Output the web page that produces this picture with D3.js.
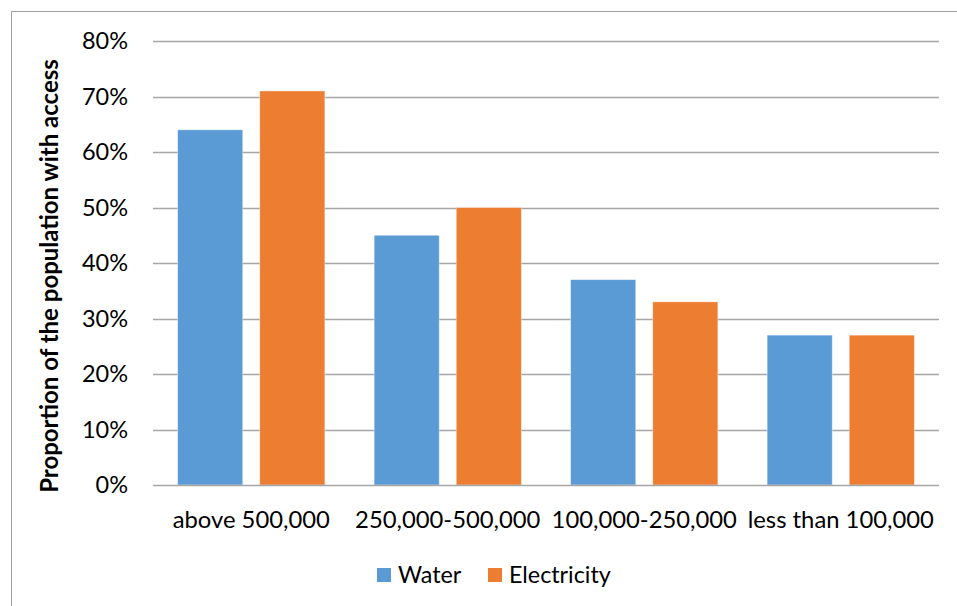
<!DOCTYPE html>
<html><head><meta charset="utf-8">
<script src="https://cdn.jsdelivr.net/npm/d3@7"></script>
<style>
html,body{margin:0;padding:0;background:#fff;}
svg{display:block;font-family:Lato,"Open Sans",sans-serif;}
</style></head>
<body><svg id="c" width="957" height="606"></svg>
<script>
const categories = ["above 500,000","250,000-500,000","100,000-250,000","less than 100,000"];
const seriesNames = ["Water","Electricity"];
const water = [0.64,0.45,0.37,0.27];
const electricity = [0.71,0.50,0.33,0.27];
const yTicks = [0,0.1,0.2,0.3,0.4,0.5,0.6,0.7,0.8];
const colors = ["#5B9BD5","#ED7D31"];
const yTitle = "Proportion of the population with access";

const svg = d3.select("#c");
svg.append("rect").attr("x",11.5).attr("y",11.5).attr("width",960).attr("height",620)
  .attr("fill","none").attr("stroke","#A0A0A0").attr("stroke-width",1);

const L=153,R=939,T=41,B=485;
const x0 = d3.scaleBand().domain(categories).range([L,R]).padding(0);
const x1 = d3.scaleBand().domain(seriesNames).range([0,x0.bandwidth()]).paddingInner(0.207).paddingOuter(0.30);
const y = d3.scaleLinear().domain([0,0.8]).range([B,T]);

// grid
svg.append("g").selectAll("line").data(yTicks.filter(d=>d>0)).join("line")
  .attr("x1",L).attr("x2",R).attr("y1",d=>Math.round(y(d))+0.5).attr("y2",d=>Math.round(y(d))+0.5)
  .attr("stroke","#A6A6A6").attr("stroke-width",1.5);

// y labels
const fmt = d3.format(".0%");
svg.append("g").selectAll("text").data(yTicks).join("text")
  .attr("x",128).attr("y",d=>y(d)).attr("dy","0.35em").attr("text-anchor","end")
  .attr("font-size",23.5).attr("fill","#000").text(d=>fmt(d));

// bars
const data = categories.map((c,i)=>({c, vals:[water[i],electricity[i]]}));
const g = svg.append("g").selectAll("g").data(data).join("g")
  .attr("transform",d=>`translate(${x0(d.c)},0)`);
g.selectAll("rect").data(d=>d.vals.map((v,j)=>({s:seriesNames[j],v,j}))).join("rect")
  .attr("x",d=>x1(d.s)).attr("width",x1.bandwidth())
  .attr("y",d=>y(d.v)).attr("height",d=>y(0)-y(d.v))
  .attr("fill",d=>colors[d.j]).attr("stroke","#fff").attr("stroke-width",0.8).attr("stroke-opacity",0.5);

// x axis line
svg.append("line").attr("x1",L).attr("x2",R).attr("y1",B+0.5).attr("y2",B+0.5)
  .attr("stroke","#A6A6A6").attr("stroke-width",1.5);

// category labels
svg.append("g").selectAll("text").data(categories).join("text")
  .attr("x",d=>x0(d)+x0.bandwidth()/2).attr("y",528).attr("text-anchor","middle")
  .attr("font-size",23.8).attr("fill","#000").text(d=>d);

// y title
svg.append("text").attr("transform","translate(58,276) rotate(-90)").attr("text-anchor","middle")
  .attr("font-size",24).attr("font-weight","bold").attr("fill","#000").text(yTitle);

// legend
const leg = svg.append("g");
const legX = [377,488];
seriesNames.forEach((s,i)=>{
  leg.append("rect").attr("x",legX[i]).attr("y",568).attr("width",14).attr("height",14).attr("fill",colors[i]);
  leg.append("text").attr("x",legX[i]+21).attr("y",583).attr("font-size",23.3).attr("fill","#000").text(s);
});
</script></body></html>
